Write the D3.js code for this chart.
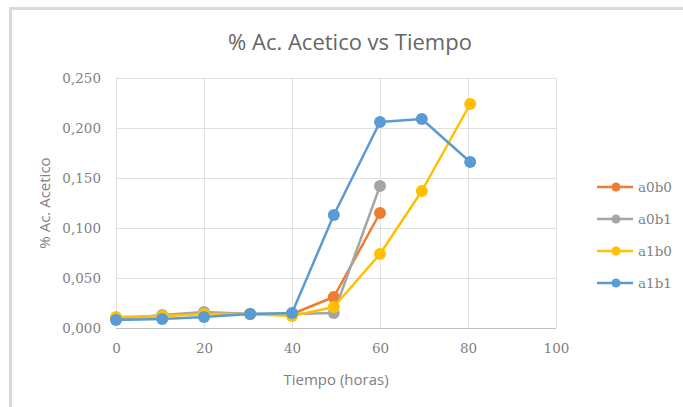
<!DOCTYPE html>
<html>
<head>
<meta charset="utf-8">
<script src="https://cdn.jsdelivr.net/npm/d3@7"></script>
<style>
  body { margin: 0; background: #fff; }
  svg { display: block; }
</style>
</head>
<body>
<script>
// data
var seriesNames = ["a0b0", "a0b1", "a1b0", "a1b1"];
var colors = ["#ED7D31", "#A5A5A5", "#FFC000", "#5B9BD5"];
var times = [0, 10.5, 20, 30.5, 40, 49.5, 60, 69.5, 80.5];
var a0b0 = [0.010, 0.012, 0.015, 0.014, 0.014, 0.031, 0.115];
var a0b1 = [0.009, 0.013, 0.016, 0.014, 0.014, 0.015, 0.142];
var a1b0 = [0.011, 0.012, 0.014, 0.014, 0.012, 0.021, 0.074, 0.137, 0.224];
var a1b1 = [0.008, 0.009, 0.011, 0.014, 0.015, 0.113, 0.206, 0.209, 0.166];
var xTicks = [0, 20, 40, 60, 80, 100];
var yTicks = [0, 0.05, 0.1, 0.15, 0.2, 0.25];

function init() {
    var w = 683;
    var h = 407;
    var allSeries = [a0b0, a0b1, a1b0, a1b1];
    var serif = "'DejaVu Serif', serif";
    var sans = "'Open Sans', sans-serif";

    var svg = d3.select("body")
        .append("svg")
        .attr("width", w)
        .attr("height", h);

    // chart frame (only left and top edges visible)
    svg.append("line").attr("x1", 10.5).attr("x2", 10.5).attr("y1", 8).attr("y2", h)
        .attr("stroke", "#d9d9d9").attr("stroke-width", 3);
    svg.append("line").attr("x1", 9).attr("x2", w).attr("y1", 8.5).attr("y2", 8.5)
        .attr("stroke", "#d9d9d9").attr("stroke-width", 3);

    var x = d3.scaleLinear().domain([0, 100]).range([116, 556]);
    var y = d3.scaleLinear().domain([0, 0.25]).range([328, 78]);

    // gridlines
    svg.append("g").selectAll("line")
        .data(yTicks)
        .enter()
        .append("line")
        .attr("x1", x(0)).attr("x2", x(100))
        .attr("y1", function (d) { return Math.round(y(d)) + 0.5; })
        .attr("y2", function (d) { return Math.round(y(d)) + 0.5; })
        .attr("stroke", function (d) { return d === 0 ? "#bfbfbf" : "#e0e0e0"; })
        .attr("stroke-width", 1);

    svg.append("g").selectAll("line")
        .data(xTicks)
        .enter()
        .append("line")
        .attr("x1", function (d) { return Math.round(x(d)) + 0.5; })
        .attr("x2", function (d) { return Math.round(x(d)) + 0.5; })
        .attr("y1", y(0.25)).attr("y2", y(0))
        .attr("stroke", "#e0e0e0")
        .attr("stroke-width", 1);

    // tick labels
    var yAxis = d3.axisLeft(y).tickValues(yTicks).tickSize(0).tickPadding(15)
        .tickFormat(function (d) { return d3.format(".3f")(d).replace(".", ","); });
    var gy = svg.append("g").attr("transform", "translate(" + x(0) + ",0)").call(yAxis);
    gy.select(".domain").remove();
    gy.selectAll("text")
        .attr("fill", "#7f7f7f")
        .style("font-family", serif)
        .style("font-size", "13.5px");

    var xAxis = d3.axisBottom(x).tickValues(xTicks).tickSize(0).tickPadding(15);
    var gx = svg.append("g").attr("transform", "translate(0," + y(0) + ")").call(xAxis);
    gx.select(".domain").remove();
    gx.selectAll("text")
        .attr("fill", "#7f7f7f")
        .style("font-family", serif)
        .style("font-size", "13.5px");

    // titles
    svg.append("text")
        .attr("x", 350).attr("y", 50)
        .attr("text-anchor", "middle")
        .attr("fill", "#666666")
        .style("font-family", sans)
        .style("font-size", "22px")
        .text("% Ac. Acetico vs Tiempo");

    svg.append("text")
        .attr("x", 336).attr("y", 385)
        .attr("text-anchor", "middle")
        .attr("fill", "#7f7f7f")
        .style("font-family", sans)
        .style("font-size", "15px")
        .text("Tiempo (horas)");

    svg.append("text")
        .attr("transform", "translate(50,203) rotate(-90)")
        .attr("text-anchor", "middle")
        .attr("fill", "#7f7f7f")
        .style("font-family", sans)
        .style("font-size", "15px")
        .text("% Ac. Acetico");

    // series
    var line = d3.line()
        .x(function (d, i) { return x(times[i]); })
        .y(function (d) { return y(d); });

    allSeries.forEach(function (vals, k) {
        var g = svg.append("g");
        g.append("path")
            .attr("d", line(vals))
            .attr("fill", "none")
            .attr("stroke", colors[k])
            .attr("stroke-width", 2.5)
            .attr("stroke-linejoin", "round");
        g.selectAll("circle")
            .data(vals)
            .enter()
            .append("circle")
            .attr("cx", function (d, i) { return x(times[i]); })
            .attr("cy", function (d) { return y(d); })
            .attr("r", 6)
            .attr("fill", colors[k]);
    });

    // legend
    var leg = svg.append("g").selectAll("g")
        .data(seriesNames)
        .enter()
        .append("g")
        .attr("transform", function (d, i) { return "translate(597," + (187 + i * 32) + ")"; });
    leg.append("line")
        .attr("x1", 0).attr("x2", 36)
        .attr("stroke", function (d, i) { return colors[i]; })
        .attr("stroke-width", 2.5);
    leg.append("circle")
        .attr("cx", 19).attr("r", 4.5)
        .attr("fill", function (d, i) { return colors[i]; });
    leg.append("text")
        .attr("x", 41).attr("dy", "0.35em")
        .attr("fill", "#7f7f7f")
        .style("font-family", serif)
        .style("font-size", "13.5px")
        .text(function (d) { return d; });
}

window.onload = init;
</script>
</body>
</html>
